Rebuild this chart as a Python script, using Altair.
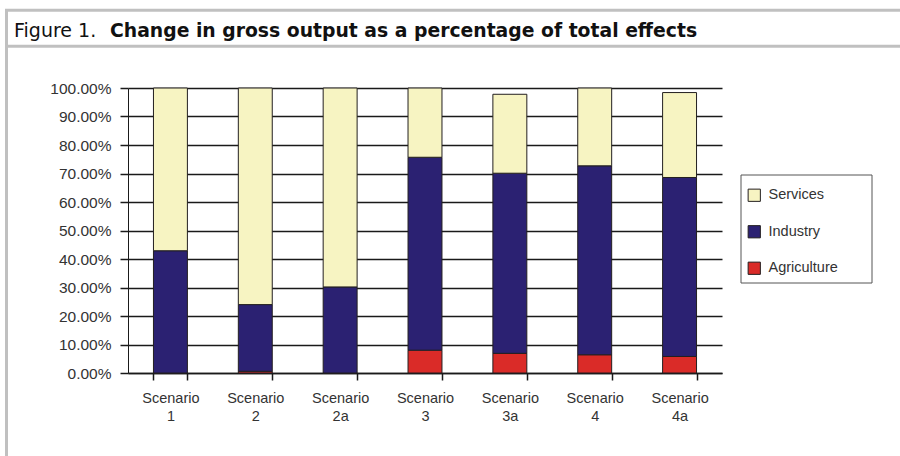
import altair as alt
import pandas as pd

# Share of total change in gross output, by sector and scenario
scenarios = ["Scenario 1", "Scenario 2", "Scenario 2a", "Scenario 3",
             "Scenario 3a", "Scenario 4", "Scenario 4a"]
agriculture = [0.000, 0.006, 0.000, 0.080, 0.069, 0.064, 0.058]
industry = [0.429, 0.234, 0.302, 0.677, 0.632, 0.663, 0.628]
services = [0.571, 0.760, 0.698, 0.243, 0.277, 0.273, 0.298]

sectors = ["Services", "Industry", "Agriculture"]
sector_colors = ["#F7F4C2", "#2B2172", "#DA2B28"]
stack_rank = {"Agriculture": 0, "Industry": 1, "Services": 2}
y_ticks = [0.0, 0.1, 0.2, 0.3, 0.4, 0.5, 0.6, 0.7, 0.8, 0.9, 1.0]

title_lead = "Figure 1."
title_main = "Change in gross output as a percentage of total effects"

rows = []
for i, sc in enumerate(scenarios):
    for name, series in (("Agriculture", agriculture), ("Industry", industry),
                         ("Services", services)):
        rows.append({"scenario": sc, "sector": name, "share": series[i],
                     "rank": stack_rank[name]})
df = pd.DataFrame(rows)

# layout of the plot area inside the 900x456 canvas
LEFT, TOP, W, H = 128, 88, 594, 285
FONT = "Liberation Sans"
INK = "#1a1a1a"
FRAME = "#c0c0c0"

one = pd.DataFrame({"k": [0]})

bars = alt.Chart(df).mark_bar(stroke="#231F20", strokeWidth=1).encode(
    x=alt.X("scenario:N", sort=scenarios,
            scale=alt.Scale(paddingInner=0.6, paddingOuter=0.3),
            axis=alt.Axis(title=None, labelAngle=0, labelExpr="split(datum.label, ' ')",
                          tickBand="extent", tickSize=7, tickColor=INK, domainColor=INK,
                          domainWidth=1.5, tickWidth=1.5, labelPadding=11,
                          labelFont=FONT, labelFontSize=14.5, labelColor="#333333",
                          labelLineHeight=18, labelBaseline="top", grid=False)),
    y=alt.Y("sum(share):Q", stack="zero",
            scale=alt.Scale(domain=[0, 1], nice=False),
            axis=alt.Axis(title=None, values=y_ticks, format=".2%", grid=True,
                          gridColor=INK, gridWidth=1.5, domainColor=INK, domainWidth=1,
                          tickColor=INK, tickWidth=1.5, tickSize=8, labelPadding=9,
                          labelFont=FONT, labelFontSize=15.5, labelColor="#333333")),
    color=alt.Color("sector:N",
                    scale=alt.Scale(domain=sectors, range=sector_colors),
                    legend=alt.Legend(title=None, orient="none",
                                      legendX=619, legendY=100,
                                      symbolType="square", symbolSize=150,
                                      symbolStrokeColor="#231F20", symbolStrokeWidth=1,
                                      labelFont=FONT, labelFontSize=14.5,
                                      labelColor="#333333", labelOffset=7,
                                      rowPadding=19.5, padding=0)),
    order=alt.Order("rank:Q", sort="ascending"),
)

# box drawn behind the sector legend
legend_box = alt.Chart(one).mark_rect(fill="white", stroke="#555555", strokeWidth=1).encode(
    x=alt.value(741 - LEFT), x2=alt.value(872 - LEFT),
    y=alt.value(175 - TOP), y2=alt.value(283 - TOP))

# grey frame around the figure and under the heading
frame_top = alt.Chart(one).mark_rule(color=FRAME, strokeWidth=3).encode(
    x=alt.value(5 - LEFT), x2=alt.value(900 - LEFT), y=alt.value(10.3 - TOP))
frame_mid = alt.Chart(one).mark_rule(color=FRAME, strokeWidth=3).encode(
    x=alt.value(5 - LEFT), x2=alt.value(900 - LEFT), y=alt.value(46.3 - TOP))
frame_left = alt.Chart(one).mark_rule(color=FRAME, strokeWidth=3).encode(
    x=alt.value(6.5 - LEFT), y=alt.value(9 - TOP), y2=alt.value(456 - TOP))

heading_lead = alt.Chart(one).mark_text(
    text=title_lead, font="DejaVu Sans", fontSize=19, align="left",
    baseline="alphabetic", color="#111111").encode(
    x=alt.value(14 - LEFT), y=alt.value(36.5 - TOP))
heading_main = alt.Chart(one).mark_text(
    text=title_main, font="DejaVu Sans", fontSize=18.8, fontWeight="bold",
    align="left", baseline="alphabetic", color="#111111").encode(
    x=alt.value(110 - LEFT), y=alt.value(36.5 - TOP))

chart = alt.layer(
    legend_box, bars, frame_top, frame_mid, frame_left, heading_lead, heading_main
).properties(
    width=W, height=H,
    autosize=alt.AutoSizeParams(type="none"),
    padding={"left": LEFT, "top": TOP, "right": 900 - LEFT - W, "bottom": 456 - TOP - H},
    background="white",
).configure_view(stroke=None)

chart.save("out.html", embed_options={"renderer": "svg", "actions": False})
